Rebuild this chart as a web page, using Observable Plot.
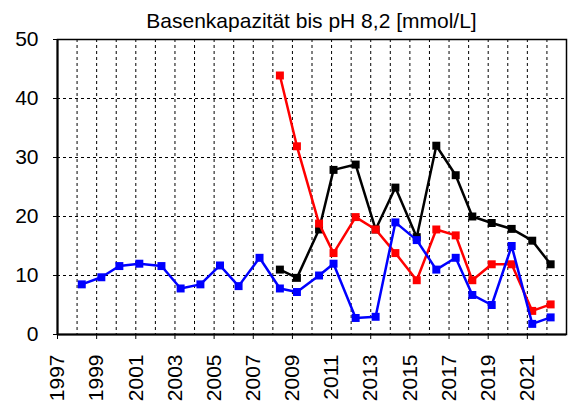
<!DOCTYPE html>
<html>
<head>
<meta charset="utf-8">
<script src="https://cdn.jsdelivr.net/npm/d3@7"></script>
<script src="https://cdn.jsdelivr.net/npm/@observablehq/plot@0.6"></script>
<style>
  html, body { margin: 0; padding: 0; background: #fff; }
  #wrap { position: relative; width: 568px; height: 402px; font-family: "Liberation Sans", Arial, sans-serif; }
  #title { position: absolute; left: 57px; width: 509px; top: 10px; text-align: center; font-size: 21px; line-height: 21px; color: #000; z-index: 2; }
  #chart { position: absolute; left: 0; top: 0; }
  #chart svg text { font-weight: normal; stroke: none; font-variant: normal; }
</style>
</head>
<body>
<div id="wrap">
  <div id="title">Basenkapazität bis pH 8,2 [mmol/L]</div>
  <div id="chart"></div>
</div>
<script>
const title = "Basenkapazität bis pH 8,2 [mmol/L]";
// Measurement dates (decimal years)
const dates = [1998.24, 1999.24, 2000.16, 2001.18, 2002.31, 2003.29, 2004.30, 2005.30, 2006.25, 2007.32,
               2008.36, 2009.23, 2010.36, 2011.10, 2012.23, 2013.25, 2014.26, 2015.35, 2016.35, 2017.34,
               2018.19, 2019.18, 2020.20, 2021.25, 2022.19];
const blueValues = [8.5, 9.7, 11.6, 12.0, 11.6, 7.8, 8.5, 11.7, 8.2, 13.0,
                    7.8, 7.2, 10.0, 12.0, 2.8, 3.0, 19.0, 16.0, 11.0, 13.0,
                    6.7, 5.0, 15.0, 1.8, 2.9];
// black and red series start at the 11th date (2008)
const blackValues = [11.0, 9.6, 17.8, 27.9, 28.8, 17.8, 24.9, 16.5, 32.0, 27.0, 20.0, 18.9, 17.9, 15.9, 11.9];
const redValues   = [43.9, 31.9, 18.8, 13.8, 19.9, 17.8, 13.8, 9.2, 17.8, 16.8, 9.2, 11.9, 11.9, 4.0, 5.1];
const seriesStart = 10;

const xTicks = [1997, 1999, 2001, 2003, 2005, 2007, 2009, 2011, 2013, 2015, 2017, 2019, 2021];
const xGrid = d3.range(1998, 2023);
const yTicks = [0, 10, 20, 30, 40, 50];
const yGrid = [10, 20, 30, 40];

const blue = dates.map((d, i) => ({x: d, y: blueValues[i]}));
const black = blackValues.map((v, i) => ({x: dates[seriesStart + i], y: v}));
const red = redValues.map((v, i) => ({x: dates[seriesStart + i], y: v}));

const lineW = 2.5, r = 4.5;
function series(data, color) {
  return [
    Plot.line(data, {x: "x", y: "y", stroke: color, strokeWidth: lineW}),
    Plot.dot(data, {x: "x", y: "y", fill: color, symbol: "square", r: r, stroke: "none"})
  ];
}

const chart = Plot.plot({
  width: 568,
  height: 402,
  marginLeft: 57,
  marginRight: 2,
  marginTop: 39,
  marginBottom: 68,
  style: {fontFamily: "'Liberation Sans', Arial, sans-serif", background: "#fff", color: "#000"},
  x: {domain: [1997, 2023]},
  y: {domain: [0, 50]},
  marks: [
    Plot.ruleX(xGrid, {stroke: "#000", strokeWidth: 1, strokeDasharray: "3,3"}),
    Plot.ruleY(yGrid, {stroke: "#000", strokeWidth: 1, strokeDasharray: "3,3"}),
    Plot.frame({stroke: "#000", strokeWidth: 1.5}),
    Plot.axisX(xTicks, {tickFormat: d => String(d), tickRotate: -90, tickSize: 5, tickPadding: 15, fontSize: 21, label: null}),
    Plot.axisY(yTicks, {tickSize: 4, tickPadding: 15, fontSize: 21, label: null}),
    Plot.ruleX([1997], {stroke: "#000", strokeWidth: 2}),
    Plot.ruleY([0], {stroke: "#000", strokeWidth: 2}),
    ...series(black, "#000000"),
    ...series(red, "#ff0000"),
    ...series(blue, "#0000ff")
  ]
});
document.getElementById("chart").appendChild(chart);
</script>
</body>
</html>
